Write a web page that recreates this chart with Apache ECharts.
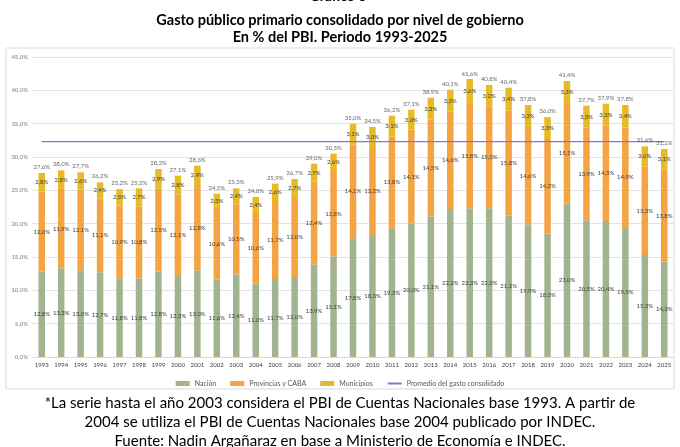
<!DOCTYPE html>
<html>
<head>
<meta charset="utf-8">
<script src="https://cdn.jsdelivr.net/npm/echarts@6/dist/echarts.min.js"></script>
<style>
  html, body { margin: 0; padding: 0; background: #fff; }
  #main { width: 680px; height: 447px; }
</style>
</head>
<body>
<div id="main"></div>
<script>
// datos (% del PBI)
const years = ['1993','1994','1995','1996','1997','1998','1999','2000','2001','2002','2003',
  '2004','2005','2006','2007','2008','2009','2010','2011','2012','2013','2014','2015','2016',
  '2017','2018','2019','2020','2021','2022','2023','2024','2025'];
const nacion = [12.8,13.3,13.0,12.7,11.8,11.8,12.8,12.3,13.0,11.6,12.4,11.0,11.7,12.0,13.9,15.1,
  17.8,18.3,19.3,20.0,21.1,22.2,22.3,22.3,21.2,19.9,18.5,23.0,20.5,20.4,19.5,15.3,14.3];
const provincias = [12.0,11.9,12.1,11.1,10.9,10.8,12.5,12.1,12.8,10.6,10.5,10.6,11.7,12.0,12.4,12.8,
  14.1,13.2,13.8,14.1,14.5,14.6,15.8,15.3,15.8,14.6,14.2,15.1,13.9,14.3,14.9,13.3,13.8];
const municipios = [2.8,2.8,2.6,2.4,2.5,2.7,2.9,2.8,2.9,2.3,2.4,2.4,2.6,2.7,2.7,2.6,
  3.1,3.0,3.1,3.0,3.3,3.3,3.6,3.2,3.4,3.3,3.3,3.3,3.3,3.3,3.4,3.0,3.1];
const totales = [27.6,28.0,27.7,26.2,25.2,25.2,28.2,27.1,28.6,24.5,25.3,24.0,25.9,26.7,29.0,30.5,
  35.0,34.5,36.2,37.1,38.9,40.1,41.6,40.8,40.4,37.8,36.0,41.4,37.7,37.9,37.8,31.6,31.2];
const promedio = 32.3;

const fmt = v => v.toFixed(1).replace('.', ',') + '%';
const lblFont = 'Lato';
const smallLabel = {
  show: true,
  position: 'inside',
  fontSize: 6,
  fontFamily: lblFont,
  color: '#404040',
  formatter: p => fmt(p.value)
};

const chart = echarts.init(document.getElementById('main'));
chart.setOption({
  animation: false,
  backgroundColor: '#fff',
  color: ['#a2b48f', '#f4a443', '#e6bb25', '#8478c6'],
  title: [
    { text: 'Gasto público primario consolidado por nivel de gobierno', left: 'center', top: 8,
      textStyle: { fontFamily: lblFont, fontSize: 14.5, fontWeight: 'bold', color: '#000' } },
    { text: 'En % del PBI. Periodo 1993-2025', left: 'center', top: 25,
      textStyle: { fontFamily: lblFont, fontSize: 14.5, fontWeight: 'bold', color: '#000' } },
    { text: '*La serie hasta el año 2003 considera el PBI de Cuentas Nacionales base 1993. A partir de',
      left: 'center', top: 391,
      textStyle: { fontFamily: lblFont, fontSize: 15, fontWeight: 'normal', color: '#000' } },
    { text: '2004 se utiliza el PBI de Cuentas Nacionales base 2004 publicado por INDEC.',
      left: 'center', top: 410,
      textStyle: { fontFamily: lblFont, fontSize: 15, fontWeight: 'normal', color: '#000' } },
    { text: 'Fuente: Nadin Argañaraz en base a Ministerio de Economía e INDEC.',
      left: 'center', top: 429,
      textStyle: { fontFamily: lblFont, fontSize: 15, fontWeight: 'normal', color: '#000' } }
  ],
  graphic: [
    {
      type: 'rect',
      shape: { x: 6, y: 48, width: 668, height: 341 },
      style: { fill: 'none', stroke: '#d9d9d9', lineWidth: 1 },
      silent: true
    },
    {
      // primera línea del título, recortada por el borde superior
      type: 'text',
      x: 338,
      y: 3,
      style: {
        text: 'Gráfico 6',
        align: 'center',
        verticalAlign: 'bottom',
        font: 'bold 14px Lato',
        fill: '#000'
      },
      silent: true
    }
  ],
  legend: {
    top: 375,
    left: 'center',
    itemWidth: 14,
    itemHeight: 5,
    itemGap: 14,
    textStyle: { fontFamily: lblFont, fontSize: 7, color: '#595959' },
    data: [
      { name: 'Nación', icon: 'rect' },
      { name: 'Provincias y CABA', icon: 'rect' },
      { name: 'Municipios', icon: 'rect' },
      { name: 'Promedio del gasto consolidado', itemStyle: { opacity: 0 } }
    ]
  },
  grid: { left: 32, right: 6, top: 57, bottom: 90, containLabel: false },
  xAxis: {
    type: 'category',
    data: years,
    axisTick: { show: false },
    axisLine: { lineStyle: { color: '#d9d9d9' } },
    axisLabel: { fontSize: 6, fontFamily: lblFont, color: '#404040', margin: 5 }
  },
  yAxis: {
    type: 'value',
    min: 0,
    max: 45,
    interval: 5,
    axisLabel: { fontSize: 6, fontFamily: lblFont, color: '#7f7f7f', margin: 4,
      formatter: v => v.toFixed(1).replace('.', ',') + '%' },
    splitLine: { lineStyle: { color: '#e3e3e3' } },
    axisLine: { show: false },
    axisTick: { show: false }
  },
  series: [
    { name: 'Nación', type: 'bar', stack: 'gasto', barWidth: 6.5, data: nacion, label: smallLabel },
    { name: 'Provincias y CABA', type: 'bar', stack: 'gasto', data: provincias, label: smallLabel },
    { name: 'Municipios', type: 'bar', stack: 'gasto', data: municipios, label: smallLabel },
    {
      name: 'Promedio del gasto consolidado',
      type: 'line',
      data: years.map(() => promedio),
      symbol: 'none',
      lineStyle: { width: 1.2, color: '#8478c6' },
      label: {
        show: true,
        position: 'top',
        offset: [8, 0],
        fontSize: 6,
        fontFamily: lblFont,
        color: '#404040',
        formatter: p => p.dataIndex === 0 ? fmt(p.value) : ''
      },
      z: 5
    },
    {
      name: 'Total',
      type: 'scatter',
      data: totales,
      symbolSize: 0,
      label: {
        show: true,
        position: 'top',
        distance: 3,
        fontSize: 6,
        fontFamily: lblFont,
        color: '#404040',
        formatter: p => fmt(p.value)
      },
      z: 6
    }
  ]
});
</script>
</body>
</html>
